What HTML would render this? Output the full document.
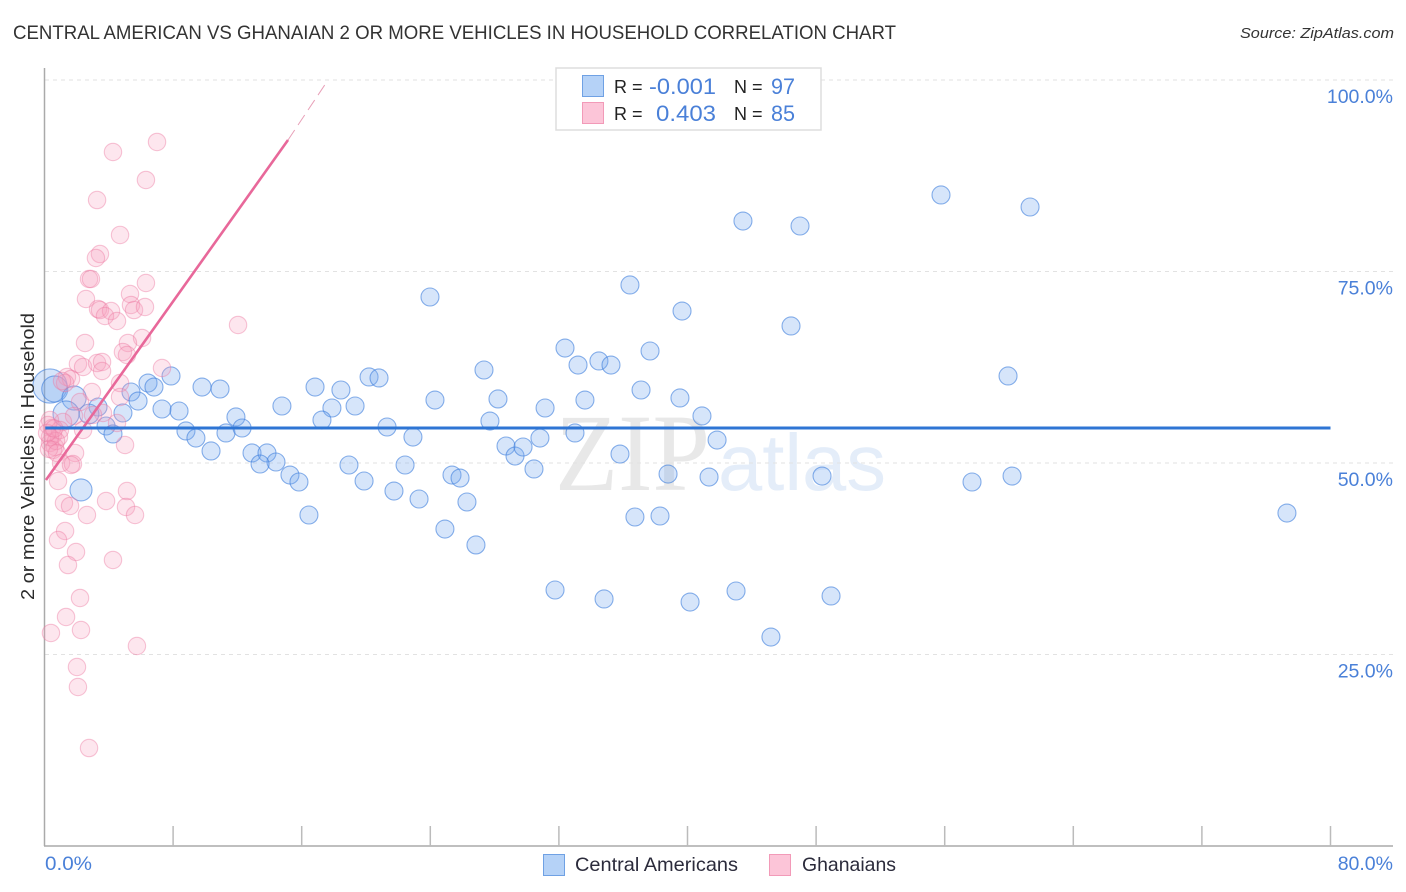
<!DOCTYPE html>
<html>
<head>
<meta charset="utf-8">
<title>Central American vs Ghanaian 2 or More Vehicles in Household Correlation Chart</title>
<style>
html,body{margin:0;padding:0;background:#fff;width:1406px;height:892px;overflow:hidden}
svg{display:block}
text{font-family:"Liberation Sans",sans-serif}
</style>
</head>
<body>
<svg id="chart" xmlns="http://www.w3.org/2000/svg" width="1406" height="892" viewBox="0 0 1406 892">
  <text x="13" y="39" font-size="19.5" fill="#333" textLength="883" lengthAdjust="spacingAndGlyphs">CENTRAL AMERICAN VS GHANAIAN 2 OR MORE VEHICLES IN HOUSEHOLD CORRELATION CHART</text>
  <text x="1394" y="38" font-size="15" font-style="italic" fill="#333" text-anchor="end" textLength="154" lengthAdjust="spacingAndGlyphs">Source: ZipAtlas.com</text>
  <text x="555" y="490" font-size="110" fill="#e8e8e8" style="font-family:'Liberation Serif',serif" textLength="155" lengthAdjust="spacingAndGlyphs">ZIP</text>
  <text x="718" y="490" font-size="80" fill="#e4edf9" textLength="168" lengthAdjust="spacingAndGlyphs">atlas</text>
  <g id="grid"></g>
  <g id="axes"></g>
  <g id="central-points"></g>
  <g id="ghana-points"></g>
  <g id="trends"></g>
  <text transform="translate(34,456.5) rotate(-90)" font-size="18.5" fill="#2b2b2b" text-anchor="middle" textLength="287" lengthAdjust="spacingAndGlyphs">2 or more Vehicles in Household</text>
  <g>
    <rect x="556" y="68" width="265" height="62" fill="#fff" stroke="#ddd" stroke-width="1.5"/>
    <rect x="582.5" y="75.5" width="21" height="21" fill="#b5d2f7" stroke="#6fa1e4" stroke-width="1"/>
    <rect x="582.5" y="102.5" width="21" height="21" fill="#fcc5d8" stroke="#f29ab8" stroke-width="1"/>
    <text x="614" y="93" font-size="18" fill="#222">R =</text>
    <text x="649" y="94" font-size="22" fill="#4a80d8" textLength="67" lengthAdjust="spacingAndGlyphs">-0.001</text>
    <text x="734" y="93" font-size="18" fill="#222">N =</text>
    <text x="771" y="94" font-size="22" fill="#4a80d8" textLength="24" lengthAdjust="spacingAndGlyphs">97</text>
    <text x="614" y="120" font-size="18" fill="#222">R =</text>
    <text x="656" y="121" font-size="22" fill="#4a80d8" textLength="60" lengthAdjust="spacingAndGlyphs">0.403</text>
    <text x="734" y="120" font-size="18" fill="#222">N =</text>
    <text x="771" y="121" font-size="22" fill="#4a80d8" textLength="24" lengthAdjust="spacingAndGlyphs">85</text>
  </g>
  <g>
    <rect x="543.5" y="854.5" width="21" height="21" fill="#b5d2f7" stroke="#6fa1e4" stroke-width="1"/>
    <text x="575" y="871" font-size="19.5" fill="#2b2b3b" textLength="163" lengthAdjust="spacingAndGlyphs">Central Americans</text>
    <rect x="769.5" y="854.5" width="21" height="21" fill="#fcc5d8" stroke="#f29ab8" stroke-width="1"/>
    <text x="802" y="871" font-size="19.5" fill="#2b2b3b" textLength="94" lengthAdjust="spacingAndGlyphs">Ghanaians</text>
  </g>
</svg>
<script>
const xTickValues = [0, 8, 16, 24, 32, 40, 48, 56, 64, 72, 80];
const xTickLabels = ["0.0%", "80.0%"];
const yTickValues = [25, 50, 75, 100];
const yTickLabels = ["25.0%", "50.0%", "75.0%", "100.0%"];

const centralX = [43.45,47.00,55.77,61.31,36.42,39.66,23.98,46.44,32.38,37.67,33.19,34.49,35.24,59.94,27.34,37.11,39.53,33.62,28.21,24.29,20.19,20.81,16.83,18.44,19.32,14.77,17.88,17.26,11.91,10.92,9.80,7.87,6.44,6.81,5.38,5.82,7.31,8.37,4.88,8.80,9.42,11.29,12.29,10.36,12.91,13.84,14.40,13.41,15.27,15.83,16.45,18.94,19.88,21.74,22.43,23.30,21.31,22.92,24.91,25.35,25.85,26.28,26.84,27.71,31.14,28.71,29.27,29.77,30.82,30.45,33.00,35.80,38.79,40.90,41.84,41.34,48.37,57.70,60.19,36.73,38.29,77.29,31.76,34.81,40.16,43.02,48.93,45.19,0.34,0.64,1.84,1.34,3.33,2.77,3.83,4.26,2.27];
const centralY = [81.59,80.94,84.99,83.42,73.24,69.84,71.67,67.89,65.01,64.62,62.79,63.32,62.79,61.36,62.14,59.53,58.49,58.22,58.36,58.22,61.23,61.10,59.92,59.53,57.44,57.44,57.18,55.61,56.01,59.66,59.92,61.36,60.44,59.92,59.27,58.09,57.05,56.79,56.53,54.18,53.26,53.92,54.57,51.57,51.31,51.31,50.13,49.87,48.43,47.52,43.21,49.74,47.65,46.34,49.74,45.30,54.70,53.39,41.38,48.43,48.04,44.91,39.30,55.48,57.18,52.22,50.91,52.09,53.26,49.22,53.92,51.17,48.56,56.14,53.00,48.17,48.30,47.52,48.30,42.95,43.08,43.47,33.42,32.25,31.85,33.29,32.64,27.28,60.05,59.66,58.49,56.40,57.31,56.40,54.83,53.79,46.48];
const centralBigIndex = [88, 89, 90, 91, 93, 96];
const centralBigWeight = [3.6, 2.1, 1.8, 2.1, 1.2, 1.5];

const ghanaX = [7.00,4.26,6.31,3.27,4.70,3.45,3.20,2.77,2.89,6.31,2.58,5.32,3.33,3.45,5.38,5.57,6.25,4.14,3.76,4.51,12.04,2.52,6.07,5.19,4.88,5.13,2.08,2.40,3.27,3.58,3.58,7.31,1.40,1.65,1.28,1.09,4.70,2.95,4.70,2.21,1.84,1.15,3.64,3.02,2.40,4.51,5.01,0.34,0.47,0.53,0.90,0.34,0.65,0.53,1.90,1.03,1.77,1.65,0.84,1.21,1.59,3.83,5.13,5.07,5.63,2.64,1.28,0.84,1.96,4.26,1.46,2.21,1.34,2.27,0.40,5.75,2.02,2.08,2.77,0.22,0.96,0.34,0.72,0.28,0.78,0.16,0.60];
const ghanaY = [91.91,90.60,86.95,84.33,79.77,77.28,76.76,74.02,74.02,73.50,71.41,72.06,70.10,69.97,70.63,69.97,70.37,69.84,69.19,68.54,68.02,65.67,66.32,65.67,64.49,64.10,62.92,62.53,63.05,63.19,62.01,62.40,61.23,60.97,60.44,60.70,60.44,59.27,58.62,57.96,56.14,55.35,56.53,56.27,54.31,55.22,52.35,55.61,54.57,53.66,53.39,52.61,52.09,51.70,51.31,50.00,49.87,49.74,47.65,44.78,44.39,45.04,46.34,44.26,43.21,43.21,41.12,39.95,38.38,37.34,36.68,32.38,29.90,28.20,27.81,26.11,23.37,20.76,12.79,54.96,54.31,53.39,52.87,51.83,51.31,53.92,54.50];

const centralTrendValue = [54.57, 54.57];
const centralTrendRange = [0.05, 80];
const ghanaTrendValue = [47.78, 92.17, 100];
const ghanaTrendRange = [0.09, 15.15, 17.64];

const NS = 'http://www.w3.org/2000/svg';
function xScale(v) { return 44.5 + v * 16.075; }
function yScale(v) { return 846 - v * 7.66; }
function make(tag, attrs, parent) {
  const el = document.createElementNS(NS, tag);
  for (const k in attrs) el.setAttribute(k, attrs[k]);
  parent.appendChild(el);
  return el;
}

const grid = document.getElementById('grid');
yTickValues.forEach(function (v, i) {
  const line = make('line', {x1: 45, x2: 1393, y1: yScale(v), y2: yScale(v), stroke: '#e2e2e2', 'stroke-width': 1, 'stroke-dasharray': '4 4'}, grid);
  
  
  const label = make('text', {x: 1393, y: yScale(v) + 23, 'font-size': 19.5, fill: '#4a80d8', 'text-anchor': 'end'}, grid);
  
  
  label.textContent = yTickLabels[i];
});

const axes = document.getElementById('axes');
const yAxis = make('line', {x1: 44.5, x2: 44.5, y1: 68, y2: 846, stroke: '#aaa', 'stroke-width': 1.5}, axes);


const xAxis = make('line', {x1: 44, x2: 1393, y1: 846, y2: 846, stroke: '#aaa', 'stroke-width': 1.5}, axes);


xTickValues.slice(1).forEach(function (v) {
  const tick = make('line', {x1: xScale(v), x2: xScale(v), y1: 826, y2: 846, stroke: '#bbb', 'stroke-width': 1.5}, axes);
  
  
});
const xLabelFirst = make('text', {x: xScale(xTickValues[0]) + 0.5, y: 870, 'font-size': 19.5, fill: '#4a80d8', textLength: 47, lengthAdjust: 'spacingAndGlyphs'}, axes);


xLabelFirst.textContent = xTickLabels[0];
const xLabelLast = make('text', {x: 1393, y: 870, 'font-size': 19.5, fill: '#4a80d8', 'text-anchor': 'end'}, axes);


xLabelLast.textContent = xTickLabels[1];

function radiusFor(weight) { return 9 * Math.sqrt(weight); }

const centralGroup = document.getElementById('central-points');
centralX.forEach(function (v, i) {
  const at = centralBigIndex.indexOf(i);
  const weight = at >= 0 ? centralBigWeight[at] : 1;
  const dot = make('circle', {cx: xScale(v), cy: yScale(centralY[i]), r: radiusFor(weight), fill: 'rgba(120,170,240,0.3)', stroke: 'rgba(60,125,220,0.6)', 'stroke-width': 1.1}, centralGroup);
  
  
});

const ghanaGroup = document.getElementById('ghana-points');
ghanaX.forEach(function (v, i) {
  const dot = make('circle', {cx: xScale(v), cy: yScale(ghanaY[i]), r: 8.7, fill: 'rgba(248,160,190,0.26)', stroke: 'rgba(235,120,160,0.42)', 'stroke-width': 1.1}, ghanaGroup);
  
  
});

const trends = document.getElementById('trends');
const ghanaSolid = make('line', {x1: xScale(ghanaTrendRange[0]), y1: yScale(ghanaTrendValue[0]), x2: xScale(ghanaTrendRange[1]), y2: yScale(ghanaTrendValue[1]), stroke: '#e8689a', 'stroke-width': 2.6}, trends);


const ghanaDash = make('line', {x1: xScale(ghanaTrendRange[1]), y1: yScale(ghanaTrendValue[1]), x2: xScale(ghanaTrendRange[2]), y2: yScale(ghanaTrendValue[2]), stroke: '#e8a0b8', 'stroke-width': 1, 'stroke-dasharray': '12 6'}, trends);


const centralTrend = make('line', {x1: xScale(centralTrendRange[0]), y1: yScale(centralTrendValue[0]), x2: xScale(centralTrendRange[1]), y2: yScale(centralTrendValue[1]), stroke: '#2e75d4', 'stroke-width': 3}, trends);


</script>
</body>
</html>
